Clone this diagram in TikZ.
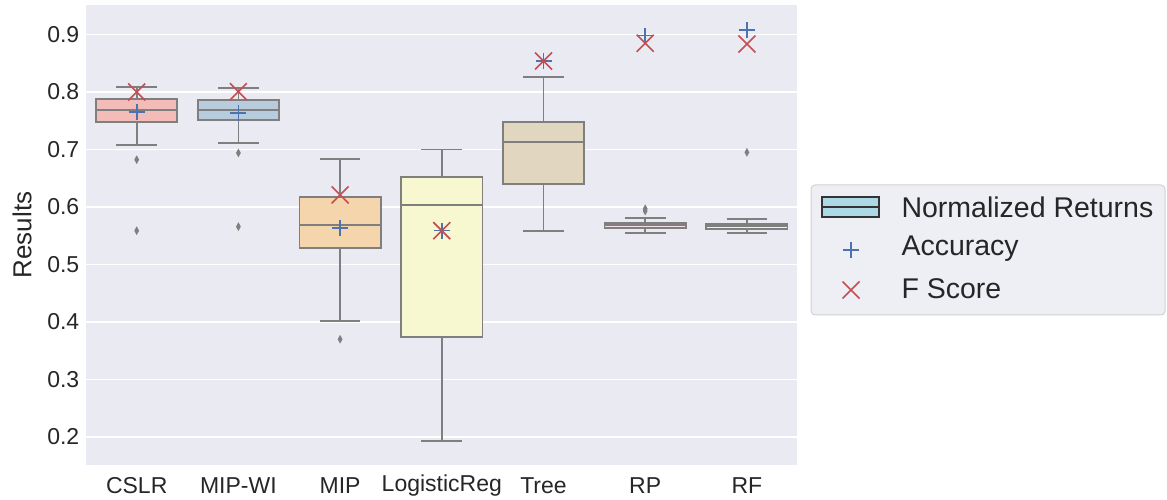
\documentclass[tikz,border=0pt]{standalone}
\usepackage{fontspec}
\setmainfont{Liberation Sans}
\usetikzlibrary{shapes.geometric}

\definecolor{bgcol}{HTML}{EAEAF2}
\definecolor{edgecol}{HTML}{7F7F7F}
\definecolor{accblue}{HTML}{4C72B0}
\definecolor{fred}{HTML}{C44E52}
\definecolor{cslrcol}{HTML}{F3BCB8}
\definecolor{mipwicol}{HTML}{B7CCDD}
\definecolor{mipcol}{HTML}{F4D5AC}
\definecolor{logcol}{HTML}{F8F8D0}
\definecolor{treecol}{HTML}{E1D6C0}
\definecolor{rpcol}{HTML}{F5DCE6}
\definecolor{rfcol}{HTML}{F0F0F0}
\definecolor{legcol}{HTML}{EEEEF5}

% box: index, fill, q1, median, q3, low whisker, high whisker
\newcommand{\boxplt}[7]{%
  \fill[#2] (#1-0.4,#3) rectangle (#1+0.4,#5);
  \draw[whisk] (#1,#6) -- (#1,#3) (#1,#5) -- (#1,#7)
    (#1-0.2,#6) -- (#1+0.2,#6) (#1-0.2,#7) -- (#1+0.2,#7);
  \draw[boxline] (#1-0.4,#3) rectangle (#1+0.4,#5)
    (#1-0.4,#4) -- (#1+0.4,#4);
}
\newcommand{\accmark}[2]{%
  \draw[accline] (#1,#2) ++(-8pt,0) -- ++(16pt,0) ++(-8pt,-8pt) -- ++(0,16pt);
}
\newcommand{\fmark}[2]{%
  \draw[fline] (#1,#2) ++(-8.5pt,-8.5pt) -- ++(17pt,17pt) ++(0,-17pt) -- ++(-17pt,17pt);
}

\begin{document}
\begin{tikzpicture}[
x=1pt,y=1pt,
boxline/.style={draw=edgecol, line width=1.8pt},
whisk/.style={draw=edgecol, line width=1.7pt},
accline/.style={draw=accblue, line width=1.6pt},
fline/.style={draw=fred, line width=1.6pt},
outl/.style={
    diamond,
    fill=edgecol,
    inner sep=0pt,
    minimum width=5pt,
    minimum height=9pt
    },
ticklab/.style={font=\fontsize{23}{27}\selectfont, text=black!85},
leglab/.style={font=\fontsize{28.5}{32}\selectfont, text=black!85, anchor=west},
]
\useasboundingbox (0,0) rectangle (1167,500);
\fill[bgcol] (86,35) rectangle (797,495);

\begin{scope}[shift={(136.7,-52)}, x=101.7pt, y=575pt]
    % grid and y ticks
    \foreach \v in {2,...,9}{
        \draw[white, line width=1.3pt] (-0.5,\v/10) -- (6.5,\v/10);
        \node[ticklab, anchor=east] (ytick\v) at (-0.53,\v/10) {0.\v};
    }
    % x ticks
    \foreach \i/\lab in {0/CSLR,1/MIP-WI,2/MIP,3/LogisticReg,4/Tree,5/RP,6/RF}{
        \node[ticklab] (xtick\i) at (\i,0.1148) {\lab};
    }

    \boxplt{0}{cslrcol}{0.7478}{0.768}{0.7878}{0.7078}{0.8092}
    \boxplt{1}{mipwicol}{0.7513}{0.768}{0.786}{0.7113}{0.8064}
    \boxplt{2}{mipcol}{0.528}{0.5687}{0.618}{0.4023}{0.683}
    \boxplt{3}{logcol}{0.3745}{0.604}{0.6527}{0.1936}{0.7}
    \boxplt{4}{treecol}{0.6405}{0.7136}{0.7478}{0.5583}{0.8255}
    \boxplt{5}{rpcol}{0.563}{0.568}{0.5727}{0.5553}{0.5809}
    \boxplt{6}{rfcol}{0.5617}{0.5664}{0.5705}{0.5553}{0.5797}

    % outliers
    \node[outl] (o1) at (0,0.6823) {};
    \node[outl] (o2) at (0,0.5588) {};
    \node[outl] (o3) at (1,0.694) {};
    \node[outl] (o4) at (1,0.5658) {};
    \node[outl] (o5) at (2,0.37) {};
    \node[outl] (o6) at (5,0.597) {};
    \node[outl] (o7) at (5,0.593) {};
    \node[outl] (o8) at (6,0.695) {};

    % accuracy and f score
    \accmark{0}{0.7647} \fmark{0}{0.80}
    \accmark{1}{0.763}  \fmark{1}{0.8005}
    \accmark{2}{0.563}  \fmark{2}{0.621}
    \accmark{3}{0.5588} \fmark{3}{0.5588}
    \accmark{4}{0.8539} \fmark{4}{0.8539}
    \accmark{5}{0.898}  \fmark{5}{0.8847}
    \accmark{6}{0.9078} \fmark{6}{0.8835}
\end{scope}

\node[rotate=90, font=\fontsize{26}{30}\selectfont, text=black!85] (ylab) at (22,265) {Results};

% legend
\draw[draw=black!18, fill=legcol, rounded corners=4pt, line width=1pt] (811,185) rectangle (1165,315);
\draw[fill={rgb,255:red,173;green,216;blue,230}, draw=black!80, line width=1.2pt] (822,283) rectangle (879,303);
\draw[draw=black!80, line width=1.2pt] (822,293) -- (879,293);
\accmark{851}{250}
\fmark{851}{210}
\node[leglab] (l1) at (898,293) {Normalized Returns};
\node[leglab] (l2) at (898,251) {Accuracy};
\node[leglab] (l3) at (898,211) {F Score};
\end{tikzpicture}
\end{document}
